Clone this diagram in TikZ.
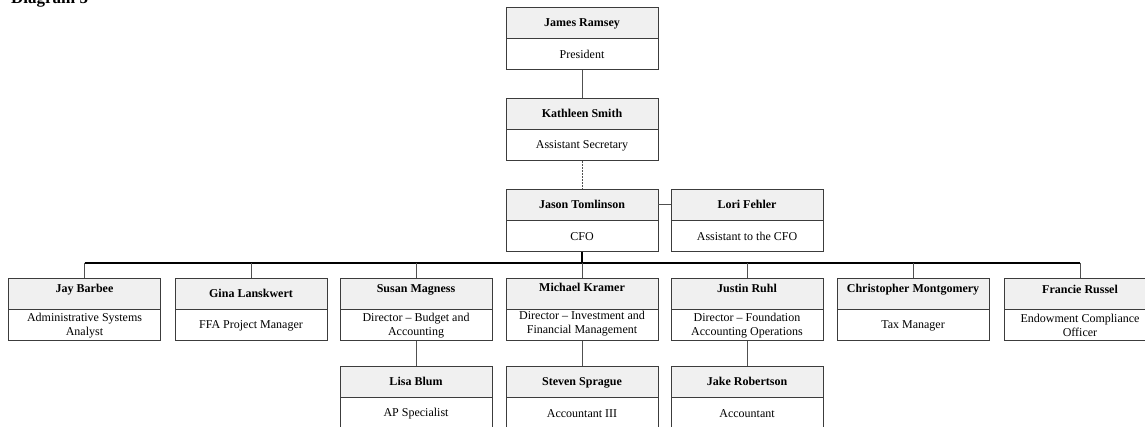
\documentclass[tikz,border=0pt]{standalone}
\usepackage{fontspec}
\setmainfont{Liberation Serif}
\definecolor{boxline}{HTML}{3C3C3C}
\definecolor{headfill}{HTML}{F0F0F0}
\definecolor{linkgray}{HTML}{505050}
\begin{document}
\begin{tikzpicture}[x=1pt,y=-1pt,
  txt/.style={font=\fontsize{12}{14.5}\selectfont},
  namebox/.style={draw=boxline, line width=0.9pt, fill=headfill,
    minimum width=152pt, minimum height=31pt, inner sep=0pt,
    font=\fontsize{12}{14.5}\selectfont\bfseries,
    text height=8.5pt, text depth=0pt},
  lift/.style={text depth=#1},
  rolebox/.style={draw=boxline, line width=0.9pt, fill=white,
    minimum width=152pt, minimum height=31pt, inner sep=0pt,
    align=center, anchor=north, font=\fontsize{12}{14.5}\selectfont},
  link/.style={draw=linkgray, line width=0.9pt},
  dotlink/.style={link, dash pattern=on 1.6pt off 1.4pt},
  bus/.style={draw=black, line width=1.2pt},
  stub/.style={draw=black, line width=2.2pt},
]
\useasboundingbox (0,0) rectangle (1145,427);
\clip (0,0) rectangle (1145,427);

% caption
\node[anchor=base west, inner sep=0pt, font=\fontsize{17}{20}\selectfont\bfseries] (caption) at (11,3.5) {Diagram 5};

% top of the chain
\node[namebox] (jrN) at (582,22.5) {James Ramsey};
\node[rolebox] (jrT) at (jrN.south) {President};

\node[namebox] (ksN) at (582,113.5) {Kathleen Smith};
\node[rolebox] (ksT) at (ksN.south) {Assistant Secretary};

\node[namebox] (jtN) at (582,204.5) {Jason Tomlinson};
\node[rolebox] (jtT) at (jtN.south) {CFO};

\node[namebox] (lfN) at (747,204.5) {Lori Fehler};
\node[rolebox] (lfT) at (lfN.south) {Assistant to the CFO};

% direct reports of the CFO
\node[namebox, lift=10pt] (jbN) at (84.5,293.5) {Jay Barbee};
\node[rolebox] (jbT) at (jbN.south) {Administrative Systems\\Analyst};

\node[namebox] (glN) at (251,293.5) {Gina Lanskwert};
\node[rolebox] (glT) at (glN.south) {FFA Project Manager};

\node[namebox, lift=10pt] (smN) at (416,293.5) {Susan Magness};
\node[rolebox] (smT) at (smN.south) {Director -- Budget and\\Accounting};

\node[namebox, lift=12pt] (mkN) at (582,293.5) {Michael Kramer};
\node[rolebox, text depth=6.5pt] (mkT) at (mkN.south) {Director -- Investment and\\Financial Management};

\node[namebox, lift=10pt] (jhN) at (747,293.5) {Justin Ruhl};
\node[rolebox] (jhT) at (jhN.south) {Director -- Foundation\\Accounting Operations};

\node[namebox, lift=10pt] (cmN) at (913,293.5) {Christopher Montgomery};
\node[rolebox] (cmT) at (cmN.south) {Tax Manager};

\node[namebox, lift=9pt] (frN) at (1080,293.5) {Francie Russel};
\node[rolebox] (frT) at (frN.south) {Endowment Compliance\\Officer};

% third level
\node[namebox] (lbN) at (416,381.5) {Lisa Blum};
\node[rolebox] (lbT) at (lbN.south) {AP Specialist};

\node[namebox] (ssN) at (582,381.5) {Steven Sprague};
\node[rolebox] (ssT) at (ssN.south) {Accountant III};

\node[namebox] (jkN) at (747,381.5) {Jake Robertson};
\node[rolebox] (jkT) at (jkN.south) {Accountant};

% connectors
\draw[link] (jrT.south) -- (ksN.north);
\draw[dotlink] (ksT.south) -- (jtN.north);
\draw[link] (jtN.east) -- (lfN.west);

\coordinate (hub) at (582,263);
\draw[stub] (jtT.south) -- (hub);
\draw[bus] (hub -| jbN.north) -- (hub -| frN.north);
\foreach \c in {jbN,glN,smN,mkN,jhN,cmN,frN}
  \draw[link] (hub -| \c.north) -- (\c.north);

\draw[link] (smT.south) -- (lbN.north);
\draw[link] (mkT.south) -- (ssN.north);
\draw[link] (jhT.south) -- (jkN.north);
\end{tikzpicture}
\end{document}
